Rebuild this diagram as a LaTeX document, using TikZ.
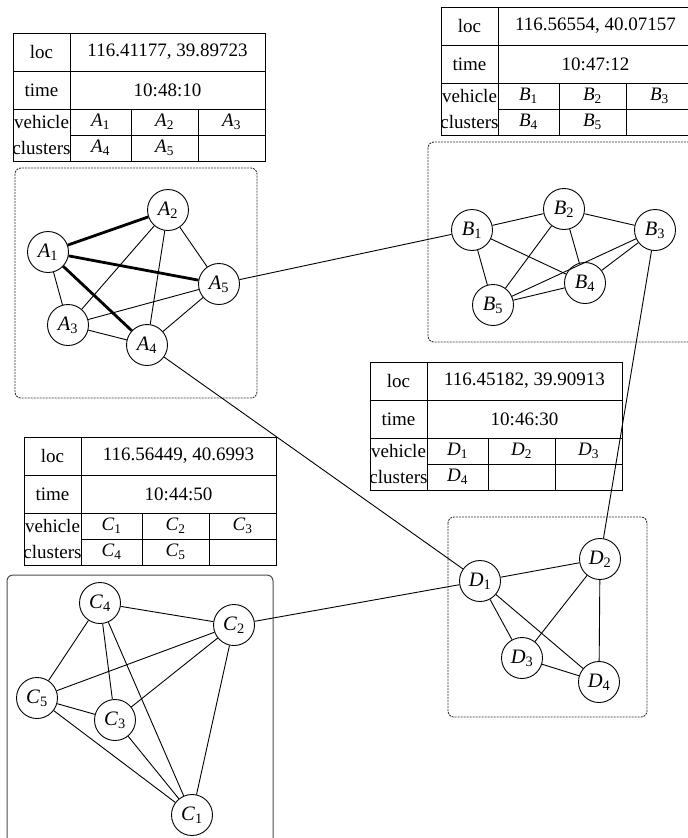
\documentclass[tikz,border=0pt]{standalone}
\usepackage{fontspec}
\setmainfont{Liberation Serif}
\newcommand\vlab[2]{\textit{#1}\textsubscript{#2}}
\tikzset{
  vtx/.style={circle, draw, line width=0.9pt, fill=white, minimum size=41pt, inner sep=0pt, font=\fontsize{20.5}{20.5}\selectfont},
  edge/.style={line width=0.9pt},
  boldedge/.style={line width=2.8pt},
  clusterbox/.style={draw=black!80, line width=0.9pt, dash pattern=on 2pt off 1pt, rounded corners=6pt},
  solidbox/.style={draw=black!70, line width=1pt, rounded corners=6pt},
  tline/.style={line width=1pt},
  tcell/.style={font=\fontsize{19}{20}\selectfont, inner sep=0pt, anchor=center}
}
\newcommand\infotab[4]{%
\begin{scope}[shift={#2}]
\draw[tline] (0,0) rectangle (252,128);
\draw[tline] (0,38) -- (252,38);
\draw[tline] (0,76) -- (252,76);
\draw[tline] (57,102) -- (252,102);
\draw[tline] (57,0) -- (57,128);
\draw[tline] (118,76) -- (118,128);
\draw[tline] (185,76) -- (185,128);
\node[tcell] (#1loc) at (28.5,19) {loc};
\node[tcell] (#1locv) at (154.5,19) {#3};
\node[tcell] (#1time) at (28.5,57) {time};
\node[tcell] (#1timev) at (154.5,57) {#4};
\node[tcell] (#1veh) at (28.5,89) {vehicle};
\node[tcell] (#1clu) at (28.5,115) {clusters};
\end{scope}}
\newcommand\tabcells[7]{%
\begin{scope}[shift={#2}]
\node[tcell] (#1c1) at (87.5,89) {#3};
\node[tcell] (#1c2) at (151.5,89) {#4};
\node[tcell] (#1c3) at (218.5,89) {#5};
\node[tcell] (#1c4) at (87.5,115) {#6};
\node[tcell] (#1c5) at (151.5,115) {#7};
\end{scope}}
\begin{document}
\begin{tikzpicture}[x=1pt,y=-1pt]
\useasboundingbox (0,0) rectangle (688,838);
\clip (0,0) rectangle (688,838);
% tables
\infotab{ta}{(13,33)}{116.41177, 39.89723}{10:48:10}
\tabcells{ta}{(13,33)}{\vlab{A}{1}}{\vlab{A}{2}}{\vlab{A}{3}}{\vlab{A}{4}}{\vlab{A}{5}}
\infotab{tb}{(441,7)}{116.56554, 40.07157}{10:47:12}
\tabcells{tb}{(441,7)}{\vlab{B}{1}}{\vlab{B}{2}}{\vlab{B}{3}}{\vlab{B}{4}}{\vlab{B}{5}}
\infotab{td}{(370,362)}{116.45182, 39.90913}{10:46:30}
\tabcells{td}{(370,362)}{\vlab{D}{1}}{\vlab{D}{2}}{\vlab{D}{3}}{\vlab{D}{4}}{}
\infotab{tc}{(24,437)}{116.56449, 40.6993}{10:44:50}
\tabcells{tc}{(24,437)}{\vlab{C}{1}}{\vlab{C}{2}}{\vlab{C}{3}}{\vlab{C}{4}}{\vlab{C}{5}}
% cluster boxes
\draw[clusterbox] (15,168) rectangle (257,398);
\draw[clusterbox] (428,142) rectangle (700,342);
\draw[clusterbox] (448,517) rectangle (647,717);
\draw[solidbox] (7,575) rectangle (273,850);
% cluster A
\node[vtx] (A1) at (48,252) {\vlab{A}{1}};
\node[vtx] (A2) at (168,210) {\vlab{A}{2}};
\node[vtx] (A5) at (219,284) {\vlab{A}{5}};
\node[vtx] (A3) at (68,325) {\vlab{A}{3}};
\node[vtx] (A4) at (147,345) {\vlab{A}{4}};
% cluster B
\node[vtx] (B1) at (472,230) {\vlab{B}{1}};
\node[vtx] (B2) at (564,209) {\vlab{B}{2}};
\node[vtx] (B3) at (655,230) {\vlab{B}{3}};
\node[vtx] (B4) at (585,283) {\vlab{B}{4}};
\node[vtx] (B5) at (493,305) {\vlab{B}{5}};
% cluster D
\node[vtx] (D1) at (480,581) {\vlab{D}{1}};
\node[vtx] (D2) at (600,559) {\vlab{D}{2}};
\node[vtx] (D3) at (522,658) {\vlab{D}{3}};
\node[vtx] (D4) at (599,682) {\vlab{D}{4}};
% cluster C
\node[vtx] (C4) at (100,603) {\vlab{C}{4}};
\node[vtx] (C2) at (234,625) {\vlab{C}{2}};
\node[vtx] (C5) at (37,698) {\vlab{C}{5}};
\node[vtx] (C3) at (115,720) {\vlab{C}{3}};
\node[vtx] (C1) at (192,815) {\vlab{C}{1}};
% edges A
\draw[boldedge] (A1) -- (A2);
\draw[boldedge] (A1) -- (A5);
\draw[boldedge] (A1) -- (A4);
\draw[edge] (A1) -- (A3);
\draw[edge] (A2) -- (A3);
\draw[edge] (A2) -- (A4);
\draw[edge] (A2) -- (A5);
\draw[edge] (A3) -- (A5);
\draw[edge] (A3) -- (A4);
\draw[edge] (A4) -- (A5);
% edges B
\draw[edge] (B1) -- (B2);
\draw[edge] (B2) -- (B3);
\draw[edge] (B1) -- (B5);
\draw[edge] (B1) -- (B4);
\draw[edge] (B2) -- (B5);
\draw[edge] (B2) -- (B4);
\draw[edge] (B3) -- (B5);
\draw[edge] (B3) -- (B4);
\draw[edge] (B4) -- (B5);
% edges D
\draw[edge] (D1) -- (D2);
\draw[edge] (D1) -- (D3);
\draw[edge] (D1) -- (D4);
\draw[edge] (D2) -- (D3);
\draw[edge] (D2) -- (D4);
\draw[edge] (D3) -- (D4);
% edges C
\draw[edge] (C4) -- (C2);
\draw[edge] (C4) -- (C5);
\draw[edge] (C4) -- (C3);
\draw[edge] (C4) -- (C1);
\draw[edge] (C2) -- (C5);
\draw[edge] (C2) -- (C3);
\draw[edge] (C2) -- (C1);
\draw[edge] (C5) -- (C3);
\draw[edge] (C5) -- (C1);
\draw[edge] (C3) -- (C1);
% links between clusters
\draw[edge] (A5) -- (B1);
\draw[edge] (A4) -- (D1);
\draw[edge] (B3) -- (D2);
\draw[edge] (C2) -- (D1);
\end{tikzpicture}
\end{document}
